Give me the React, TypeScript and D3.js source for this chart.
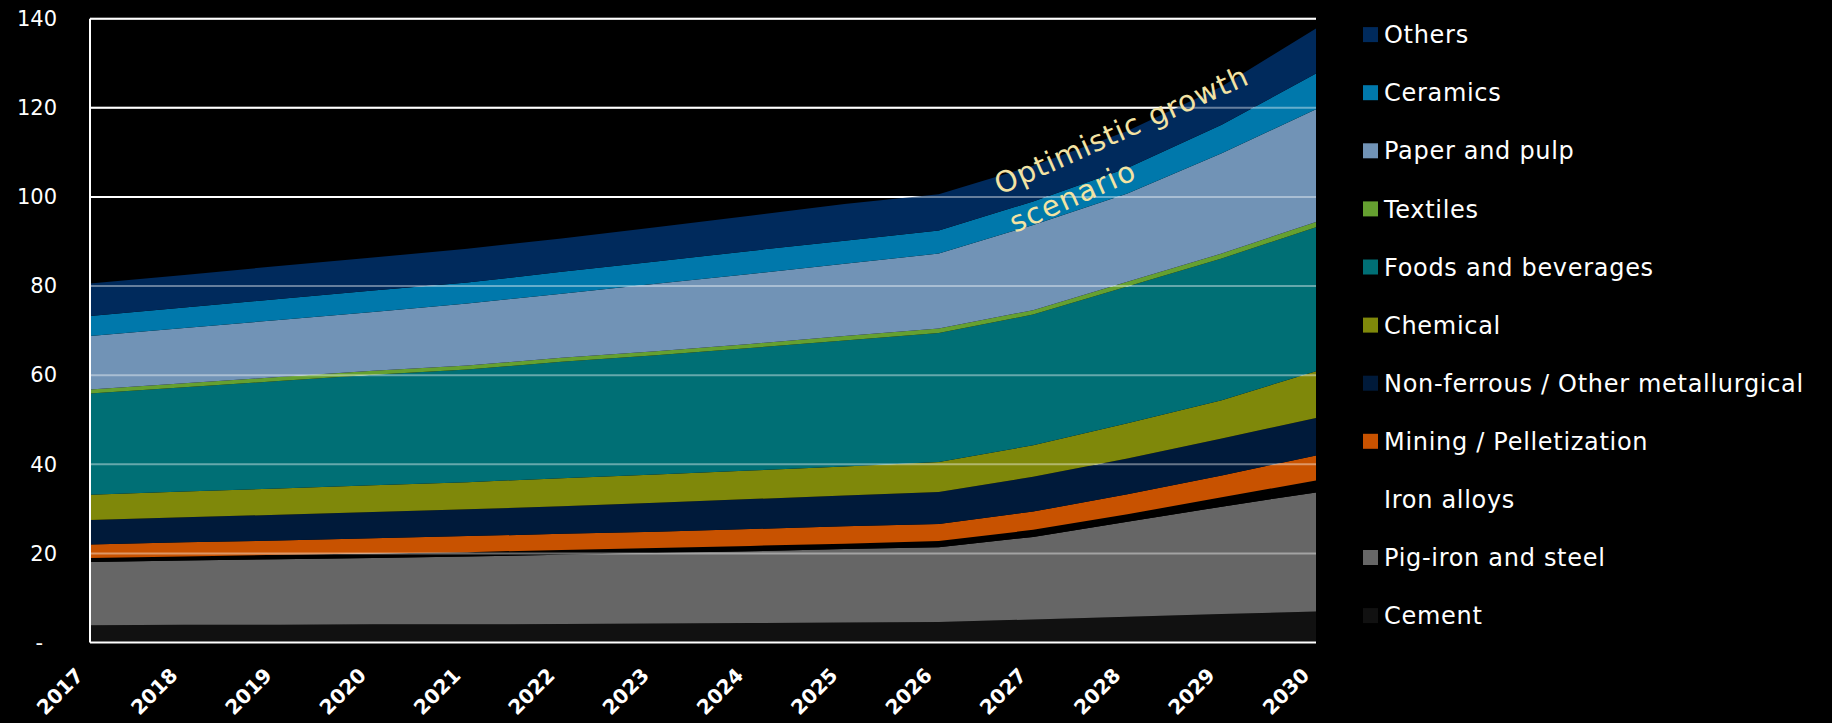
import { useEffect, useRef } from "react";
import * as d3 from "d3";

const years = [2017, 2018, 2019, 2020, 2021, 2022, 2023, 2024, 2025, 2026, 2027, 2028, 2029, 2030];

// values, bottom of the stack first
const cement = [3.9, 4.0, 4.0, 4.1, 4.1, 4.2, 4.3, 4.4, 4.5, 4.6, 5.2, 5.8, 6.4, 7.0];
const pigIron = [14.2, 14.4, 14.7, 14.9, 15.2, 15.5, 15.8, 16.1, 16.5, 16.8, 18.5, 21.3, 24.1, 26.7];
const ironAlloys = [0.9, 0.9, 1.0, 1.0, 1.0, 1.1, 1.1, 1.2, 1.2, 1.4, 1.6, 1.7, 2.1, 2.7];
const mining = [3.0, 3.2, 3.2, 3.4, 3.6, 3.6, 3.7, 3.8, 3.9, 3.8, 4.1, 4.5, 4.9, 5.6];
const nonFerrous = [5.5, 5.6, 5.8, 5.9, 6.0, 6.2, 6.5, 6.7, 6.9, 7.2, 7.8, 8.0, 8.3, 8.4];
const chemical = [5.7, 5.8, 5.9, 6.0, 6.1, 6.3, 6.3, 6.4, 6.5, 6.7, 7.1, 7.9, 8.6, 10.5];
const foods = [22.7, 23.4, 24.1, 24.8, 25.3, 26.1, 26.8, 27.5, 28.3, 29.0, 29.3, 30.7, 31.8, 32.3];
const textiles = [0.9, 0.9, 0.9, 0.9, 0.9, 0.9, 0.9, 0.9, 1.0, 1.0, 1.0, 1.1, 1.1, 1.2];
const paper = [12.0, 12.4, 12.8, 13.2, 13.9, 14.4, 15.1, 15.7, 16.2, 16.8, 19.1, 19.8, 22.5, 25.3];
const ceramics = [4.5, 4.6, 4.7, 4.8, 4.7, 4.9, 5.0, 5.2, 5.2, 5.2, 5.3, 5.7, 6.4, 8.0];
const others = [7.3, 7.3, 7.4, 7.4, 7.6, 7.5, 7.7, 7.9, 8.2, 8.1, 8.0, 8.3, 8.6, 10.1];

const seriesNames = [
  "Cement",
  "Pig-iron and steel",
  "Iron alloys",
  "Mining / Pelletization",
  "Non-ferrous / Other metallurgical",
  "Chemical",
  "Foods and beverages",
  "Textiles",
  "Paper and pulp",
  "Ceramics",
  "Others",
];
const seriesValues = [cement, pigIron, ironAlloys, mining, nonFerrous, chemical, foods, textiles, paper, ceramics, others];
const seriesColors = [
  "#111111",
  "#666666",
  "#000000",
  "#c85200",
  "#001a3a",
  "#7f880a",
  "#006f75",
  "#65a030",
  "#7193b6",
  "#0078ab",
  "#002a5c",
];

const yTicks = [0, 20, 40, 60, 80, 100, 120, 140];
const noteLines = ["Optimistic growth", "scenario"];

const FONT = "'Century Gothic', 'DejaVu Sans', sans-serif";

const App = () => {
  const svgRef = useRef<SVGSVGElement | null>(null);

  useEffect(() => {
    document.body.style.margin = "0";
    document.body.style.background = "#000";

    const width = 1832;
    const height = 723;
    const margin = { top: 18.7, right: 516, bottom: 80.4, left: 90 };

    const svg = d3.select(svgRef.current);
    svg.selectAll("*").remove();

    svg.append("rect").attr("width", width).attr("height", height).attr("fill", "#000");

    const x = d3
      .scaleLinear()
      .domain([years[0], years[years.length - 1]])
      .range([margin.left, width - margin.right]);
    const y = d3
      .scaleLinear()
      .domain([0, 140])
      .range([height - margin.bottom, margin.top]);

    const rows = years.map((yr, i) => {
      const r: Record<string, number> = { year: yr };
      seriesNames.forEach((n, k) => (r[n] = seriesValues[k][i]));
      return r;
    });
    const stacked = d3.stack<Record<string, number>>().keys(seriesNames)(rows);

    // full white gridlines underneath (visible over the black background)
    svg
      .append("g")
      .selectAll("line")
      .data(yTicks.filter((t) => t > 0))
      .join("line")
      .attr("x1", x.range()[0])
      .attr("x2", x.range()[1])
      .attr("y1", (d) => y(d))
      .attr("y2", (d) => y(d))
      .attr("stroke", "#ffffff")
      .attr("stroke-width", 2);

    const area = d3
      .area<d3.SeriesPoint<Record<string, number>>>()
      .x((d) => x(d.data.year))
      .y0((d) => y(d[0]))
      .y1((d) => y(d[1]));

    svg
      .append("g")
      .selectAll("path")
      .data(stacked)
      .join("path")
      .attr("fill", (_, i) => seriesColors[i])
      .attr("d", area);

    // faint gridlines on top of the areas
    svg
      .append("g")
      .selectAll("line")
      .data(yTicks.filter((t) => t > 0))
      .join("line")
      .attr("x1", x.range()[0])
      .attr("x2", x.range()[1])
      .attr("y1", (d) => y(d))
      .attr("y2", (d) => y(d))
      .attr("stroke", "#ffffff")
      .attr("stroke-opacity", 0.4)
      .attr("stroke-width", 2);

    // axis lines
    svg
      .append("line")
      .attr("x1", x.range()[0])
      .attr("x2", x.range()[0])
      .attr("y1", y(140))
      .attr("y2", y(0))
      .attr("stroke", "#fff")
      .attr("stroke-width", 2);
    svg
      .append("line")
      .attr("x1", x.range()[0])
      .attr("x2", x.range()[1])
      .attr("y1", y(0))
      .attr("y2", y(0))
      .attr("stroke", "#fff")
      .attr("stroke-width", 2);

    const yAxis = d3
      .axisLeft(y)
      .tickValues(yTicks)
      .tickSize(0)
      .tickPadding(33)
      .tickFormat((d) => (+d === 0 ? "-" : `${d}`));
    const gy = svg.append("g").attr("transform", `translate(${margin.left},0)`).call(yAxis);
    gy.select(".domain").remove();
    gy.selectAll("text")
      .attr("fill", "#fff")
      .attr("font-family", FONT)
      .attr("font-size", 21);
    gy.selectAll<SVGTextElement, number>("text")
      .filter((d) => d === 0)
      .attr("x", -47);

    const xAxis = d3
      .axisBottom(x)
      .tickValues(years)
      .tickSize(0)
      .tickFormat(d3.format("d"));
    const gx = svg.append("g").attr("transform", `translate(0,${y(0)})`).call(xAxis);
    gx.select(".domain").remove();
    gx.selectAll("text")
      .attr("fill", "#fff")
      .attr("font-family", FONT)
      .attr("font-weight", "bold")
      .attr("font-size", 20)
      .attr("x", 0)
      .attr("y", 0)
      .attr("dy", 0)
      .attr("text-anchor", "end")
      .attr("transform", "translate(-6,34) rotate(-45)");

    // annotation
    svg
      .append("text")
      .attr("transform", "translate(1000,195) rotate(-24)")
      .attr("fill", "#f3e3a3")
      .attr("font-family", FONT)
      .attr("font-size", 29)
      .attr("letter-spacing", 1)
      .text(noteLines[0]);
    svg
      .append("text")
      .attr("transform", "translate(1015,233) rotate(-24)")
      .attr("fill", "#f3e3a3")
      .attr("font-family", FONT)
      .attr("font-size", 29)
      .attr("letter-spacing", 1.6)
      .text(noteLines[1]);

    // legend, top of the stack first
    const legendItems = seriesNames.map((n, i) => ({ name: n, color: seriesColors[i] })).reverse();
    const legend = svg
      .append("g")
      .selectAll("g")
      .data(legendItems)
      .join("g")
      .attr("transform", (_, i) => `translate(1363,${34.6 + i * 58.1})`);
    legend
      .append("rect")
      .attr("y", -7.5)
      .attr("width", 15)
      .attr("height", 15)
      .attr("fill", (d) => d.color);
    legend
      .append("text")
      .attr("x", 21)
      .attr("dy", "0.36em")
      .attr("fill", "#fff")
      .attr("font-family", FONT)
      .attr("font-size", 24)
      .attr("letter-spacing", 0.7)
      .text((d) => d.name);
  }, []);

  return <svg ref={svgRef} width={1832} height={723} style={{ display: "block" }} />;
};

export default App;
